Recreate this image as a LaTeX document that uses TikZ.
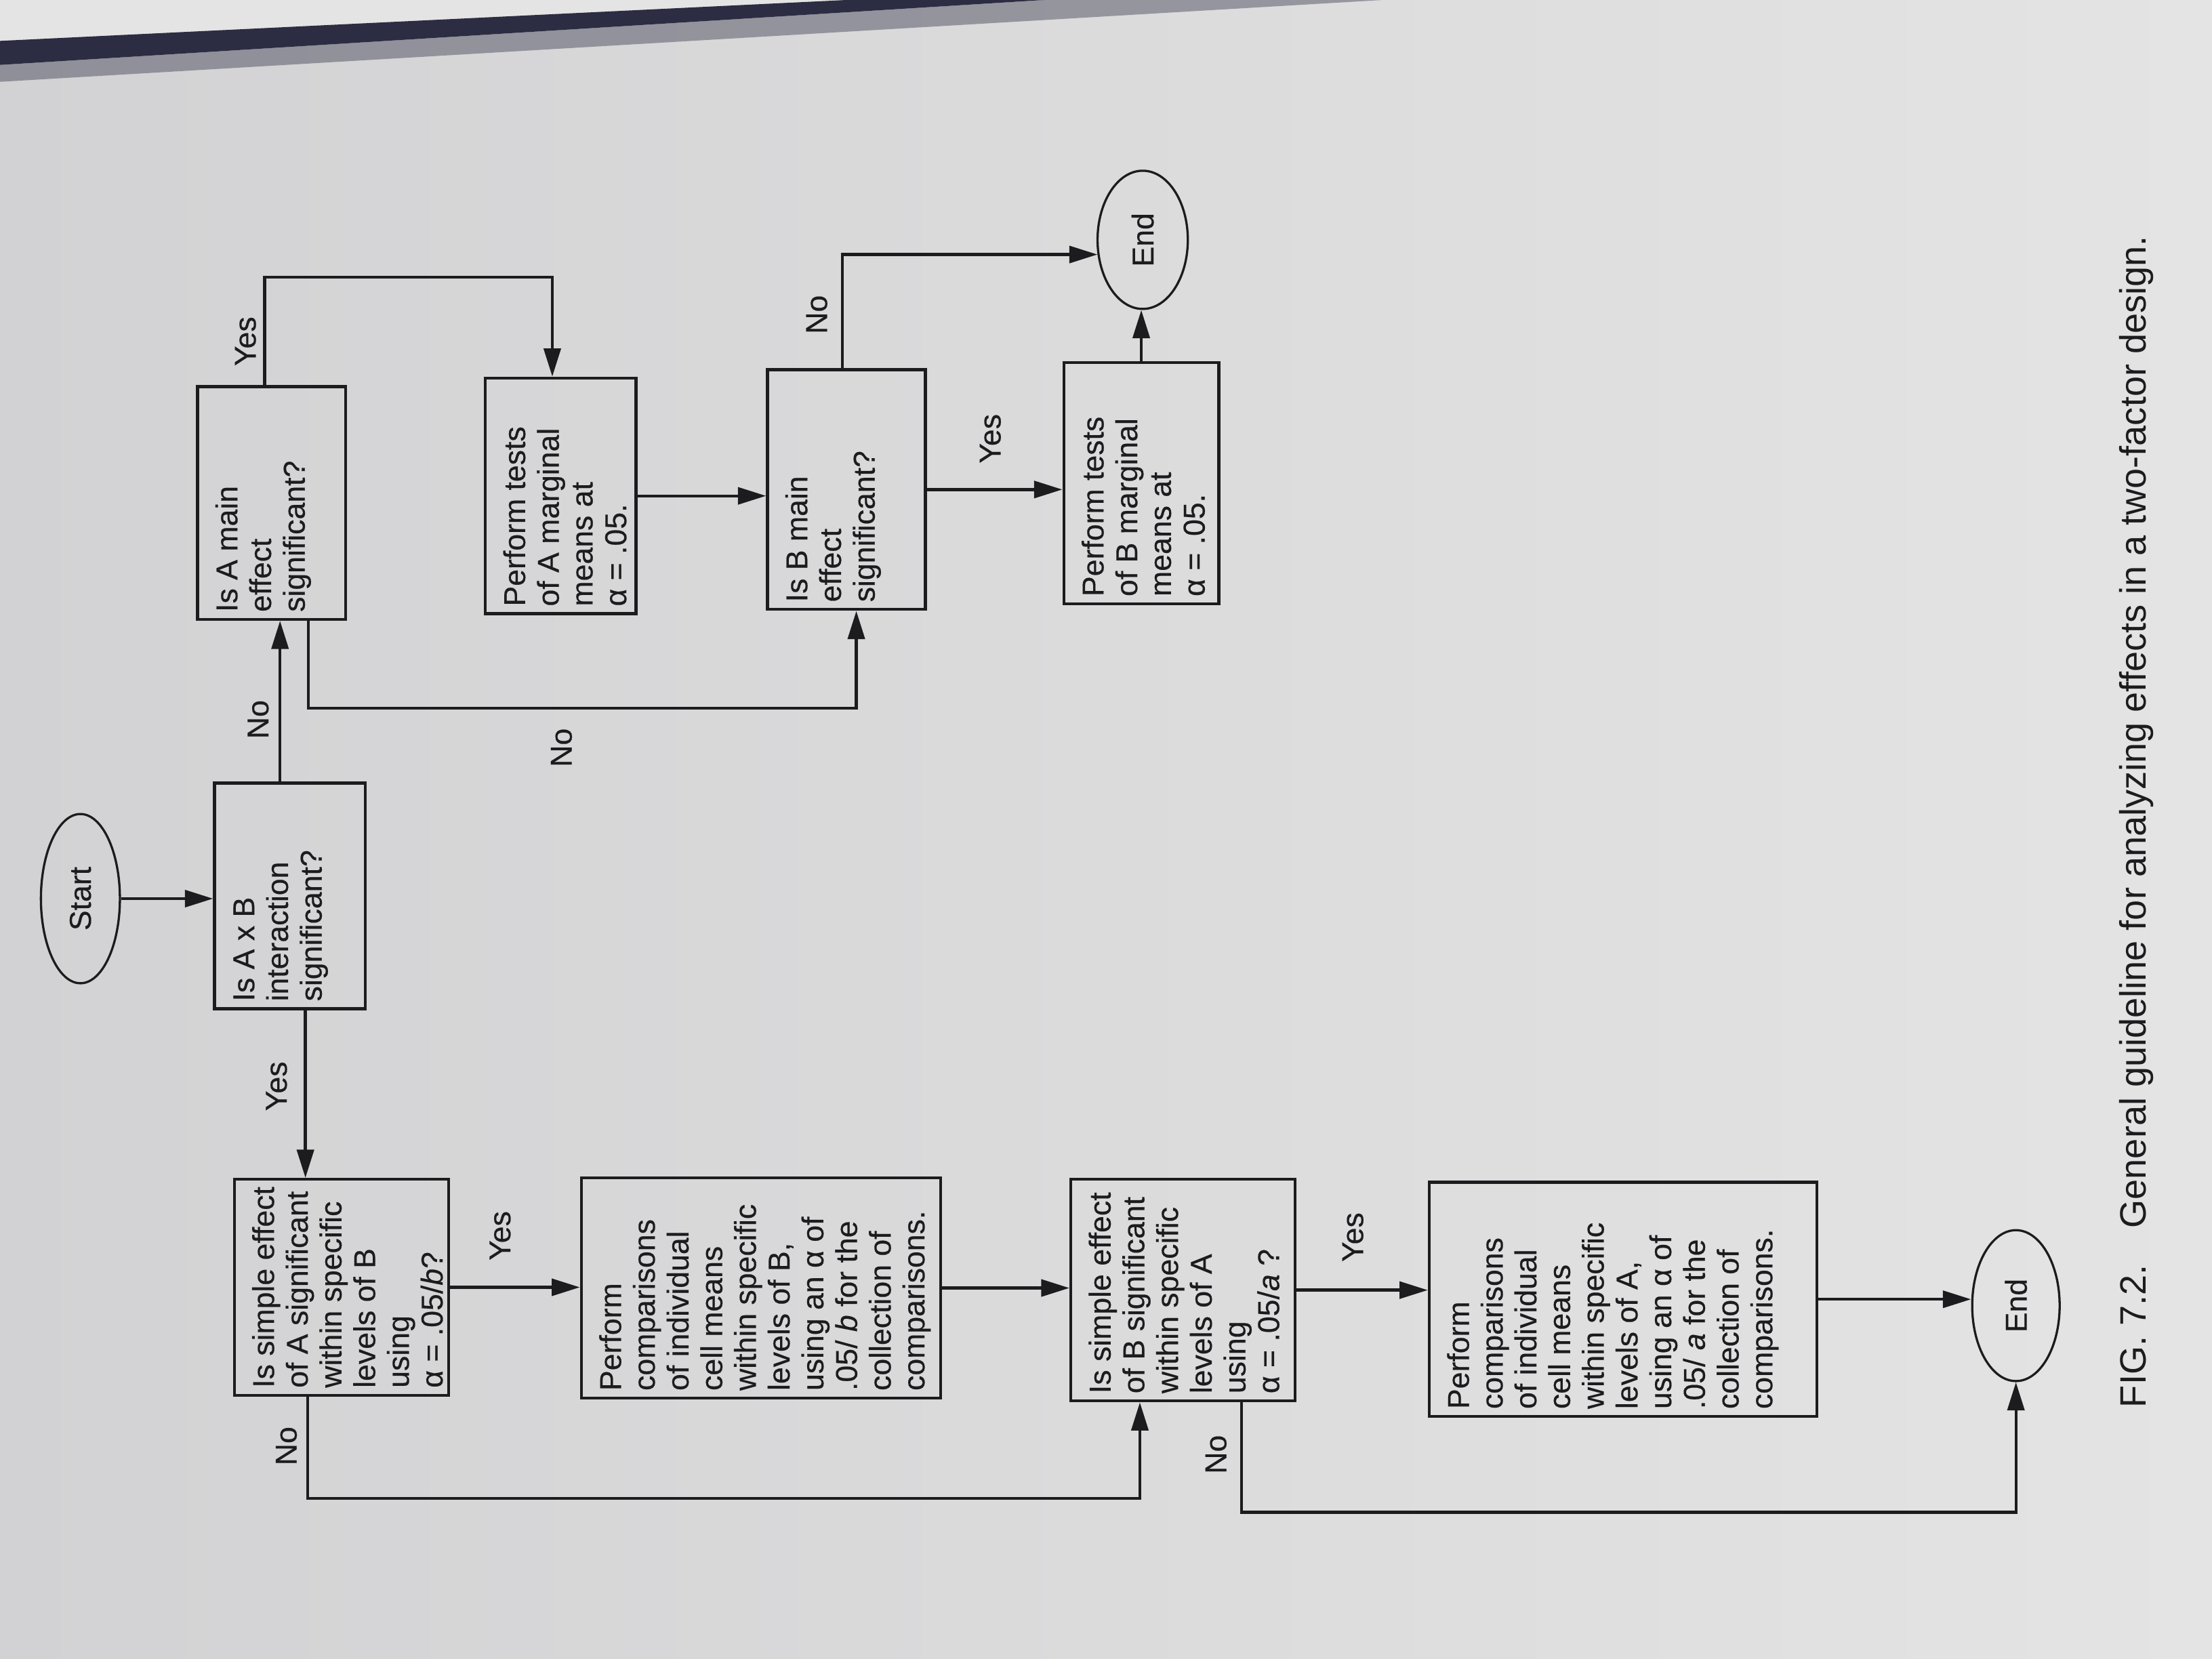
\documentclass[tikz,border=0pt]{standalone}
\usepackage{fontspec}
\setmainfont{Liberation Sans}
\newfontfamily\flowfont{Liberation Sans}[FakeBold=0.4]
\usetikzlibrary{arrows.meta,shapes.geometric,calc}

\definecolor{ink}{RGB}{28,28,30}
\definecolor{paperdark}{RGB}{210,210,212}
\definecolor{paperlight}{RGB}{228,228,228}
\definecolor{spine}{RGB}{44,44,66}

\newcommand{\flowsize}{\flowfont\fontsize{12.2}{13.6}\selectfont}
% upright text block: width, height, lines
\newcommand{\flowtext}[3]{\rotatebox{90}{\parbox[c][#2][t]{#1}{\begin{tabular}{@{}l@{}}#3\end{tabular}}}}

\tikzset{
  flowbox/.style={draw=ink, line width=1.2pt, inner xsep=6.5pt, inner ysep=3pt, text=ink, font=\flowsize},
  terminal/.style={draw=ink, line width=0.9pt, ellipse, inner sep=0pt, text=ink, font=\flowsize},
  flowarrow/.style={draw=ink, line width=1.2pt, -{Triangle[length=0.4cm,width=0.24cm]}},
  answer/.style={rotate=90, text=ink, font=\flowsize}
}

\begin{document}
\begin{tikzpicture}[x=0.02cm, y=-0.02cm]
\useasboundingbox (0,0) rectangle (1568,1176);
% page
\shade[left color=paperdark, right color=paperlight] (0,0) rectangle (1568,1176);
\fill[paperlight] (0,0) -- (600,0) -- (0,29) -- cycle;
\fill[spine] (0,29) -- (600,0) -- (740,0) -- (0,46) -- cycle;
\fill[spine, opacity=0.4] (0,46) -- (740,0) -- (980,0) -- (0,58) -- cycle;

% terminals
\node[terminal, minimum width=1.12cm, minimum height=2.4cm] (start) at (57,637) {\rotatebox{90}{Start}};
\node[terminal, minimum width=1.28cm, minimum height=1.96cm] (endtop) at (810,170) {\rotatebox{90}{End}};
\node[terminal, minimum width=1.24cm, minimum height=2.14cm] (endbot) at (1429,925.5) {\rotatebox{90}{End}};

% questions and actions
\node[flowbox] (axb) at (205.5,635) {\flowtext{2.99cm}{1.68cm}{Is A x B\\ interaction\\ significant?}};
\node[flowbox] (amain) at (192.5,356.5) {\flowtext{3.09cm}{1.64cm}{Is A main\\ effect\\ significant?}};
\node[flowbox] (atests) at (397.5,351.5) {\flowtext{3.13cm}{1.68cm}{Perform tests\\ of A marginal\\ means at\\ α = .05.}};
\node[flowbox] (bmain) at (600,347) {\flowtext{3.19cm}{1.78cm}{Is B main\\ effect\\ significant?}};
\node[flowbox] (btests) at (809,342.5) {\flowtext{3.21cm}{1.74cm}{Perform tests\\ of B marginal\\ means at\\ α = .05.}};
\node[flowbox] (simpA) at (242,912.5) {\flowtext{2.85cm}{2.58cm}{Is simple effect\\ of A significant\\ within specific\\ levels of B\\ using\\ α = .05/\textit{b}?}};
\node[flowbox] (compB) at (539.5,913) {\flowtext{2.91cm}{4.64cm}{Perform\\ comparisons\\ of individual\\ cell means\\ within specific\\ levels of B,\\ using an α of\\ .05/ \textit{b} for the\\ collection of\\ comparisons.}};
\node[flowbox] (simpB) at (838.5,914.5) {\flowtext{2.93cm}{2.72cm}{Is simple effect\\ of B significant\\ within specific\\ levels of A\\ using\\ α = .05/\textit{a} ?}};
\node[flowbox] (compA) at (1150.5,921) {\flowtext{3.11cm}{5.04cm}{Perform\\ comparisons\\ of individual\\ cell means\\ within specific\\ levels of A,\\ using an α of\\ .05/ \textit{a} for the\\ collection of\\ comparisons.}};

% attachment points and corners
\coordinate (abN) at ($(axb.north)+(-7,0)$);
\coordinate (abS) at ($(axb.south)+(11,0)$);
\coordinate (amN) at ($(amain.north)+(-5,0)$);
\coordinate (amS) at ($(amain.south)+(26,0)$);
\coordinate (atN) at ($(atests.north)+(-6,0)$);
\coordinate (bmS) at ($(bmain.south)+(7,0)$);
\coordinate (bmN) at ($(bmain.north)+(-3,0)$);
\coordinate (saS) at ($(simpA.south)+(-24,0)$);
\coordinate (sbIn) at ($(simpB.south)+(-30.5,0)$);
\coordinate (sbOut) at ($(simpB.south)+(41.5,0)$);
\coordinate (topA) at (290,196.5);
\coordinate (midA) at (400,502);
\coordinate (lowA) at (500,1062);
\coordinate (lowB) at (1100,1072);

\draw[flowarrow] (start.east) -- (start.east -| axb.west);
\draw[flowarrow] (abN) -- (abN |- amain.south);
\draw[flowarrow] (abS) -- (abS |- simpA.north);
\draw[flowarrow] (amN) |- (topA) -| (atN);
\draw[flowarrow] (amS) |- (midA) -| (bmS);
\draw[flowarrow] (atests.east) -- (atests.east -| bmain.west);
\draw[flowarrow] (bmN) |- (endtop.198);
\draw[flowarrow] (bmain.east) -- (bmain.east -| btests.west);
\draw[flowarrow] (btests.north) -- (btests.north |- endtop.south);
\draw[flowarrow] (simpA.east) -- (simpA.east -| compB.west);
\draw[flowarrow] (compB.east) -- (compB.east -| simpB.west);
\draw[flowarrow] (saS) |- (lowA) -| (sbIn);
\draw[flowarrow] (simpB.east) -- (simpB.east -| compA.west);
\draw[flowarrow] (compA.east) -- (compA.east -| endbot.west);
\draw[flowarrow] (sbOut) |- (lowB) -| (endbot.south);

% answers
\node[answer] (noAB) at (183,510) {No};
\node[answer] (yesAB) at (196,770) {Yes};
\node[answer] (yesAmain) at (174,242) {Yes};
\node[answer] (noAmain) at (398,530) {No};
\node[answer] (noBmain) at (579,223) {No};
\node[answer] (yesBmain) at (702,311) {Yes};
\node[answer] (yesSimpA) at (354.5,876) {Yes};
\node[answer] (noSimpA) at (203,1025) {No};
\node[answer] (yesSimpB) at (959,877) {Yes};
\node[answer] (noSimpB) at (862,1031) {No};

\node[rotate=90, anchor=base west, text=ink, font=\fontsize{14.8}{16}\selectfont] (caption) at (1521,1004) {FIG. 7.2.\quad General guideline for analyzing effects in a two-factor design.};
\end{tikzpicture}
\end{document}
